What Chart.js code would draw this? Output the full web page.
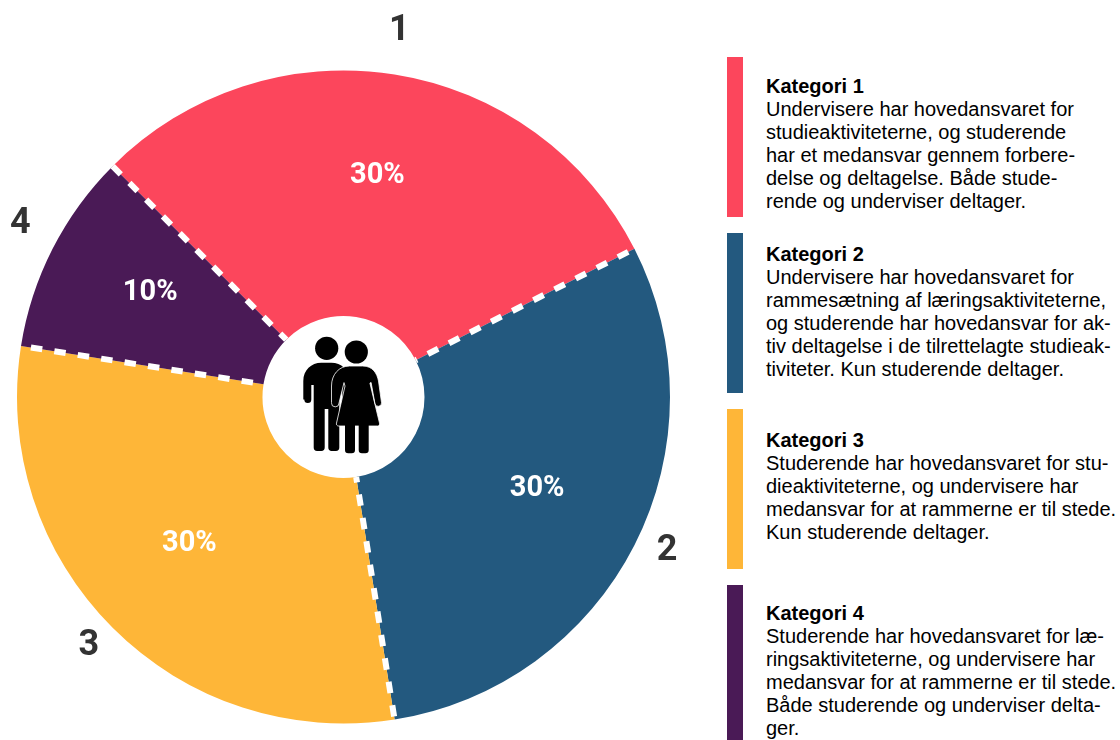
<!DOCTYPE html>
<html lang="da">
<head>
<meta charset="utf-8">
<title>Kategorier</title>
<script src="https://cdn.jsdelivr.net/npm/chart.js@4"></script>
<style>
  html,body { margin:0; padding:0; background:#fff; width:1120px; height:740px; overflow:hidden; }
  #pie { position:absolute; left:0; top:0; }
  #icon { position:absolute; left:0; top:0; pointer-events:none; }
  .bar { position:absolute; left:727px; width:16px; }
  .txt { position:absolute; left:766px; width:354px; font:20px/23.1px "Liberation Sans",Arial,sans-serif; color:#000; white-space:nowrap; }
</style>
</head>
<body>
<canvas id="pie" width="700" height="740"></canvas>
<svg id="icon" width="700" height="740" viewBox="0 0 700 740">
  <g fill="#000">
    <circle cx="326.7" cy="348.3" r="11.6"/>
    <path d="M303.3 399.5V381c0-11 8-18.3 18-18.3h10c10 0 18 7 18 18V399.5a3.5 3.5 0 0 1-7 0V385h-3v62.5a3.4 3.4 0 0 1-3.4 3.4h-4.2a3.4 3.4 0 0 1-3.4-3.4V409h-3.6v38.5a3.4 3.4 0 0 1-3.4 3.4h-4.2a3.4 3.4 0 0 1-3.4-3.4V385h-2.4V399.5a3.5 3.5 0 0 1-7 0z"/>
    <circle cx="356.3" cy="352" r="11.6"/>
    <path stroke="#fff" stroke-width="0.8" d="M331.5 402.5V386c0-11.5 7.5-20 18-20h13c10.5 0 14.5 7.5 16 15l3 21.5a3.3 3.3 0 0 1-6.6 1l-3.8-21 -1.2 .6 9.6 40a2.2 2.2 0 0 1-2 2.9H338.5a2.2 2.2 0 0 1-2-2.9l8.5-37 -1 -3.5 -5 20.5a3.4 3.4 0 0 1-7.5 0z"/>
    <path d="M345 425h10v25a3.3 3.3 0 0 1-3.3 3.3h-3.4a3.3 3.3 0 0 1-3.3-3.3zM358.7 425h10v25a3.3 3.3 0 0 1-3.3 3.3h-3.4a3.3 3.3 0 0 1-3.3-3.3z"/>
  </g>
</svg>
<div id="legend"></div>
<script>
const categories = ['1','2','3','4'];
const shares = [30,30,30,10];
const colors = ['#FC465C','#23597F','#FEB638','#4A1A56'];
const legendTitles = ['Kategori 1','Kategori 2','Kategori 3','Kategori 4'];
const legendLines = [
  ['Undervisere har hovedansvaret for','studieaktiviteterne, og studerende','har et medansvar gennem forbere-','delse og deltagelse. Både stude-','rende og underviser deltager.'],
  ['Undervisere har hovedansvaret for','rammesætning af læringsaktiviteterne,','og studerende har hovedansvar for ak-','tiv deltagelse i de tilrettelagte studieak-','tiviteter. Kun studerende deltager.'],
  ['Studerende har hovedansvaret for stu-','dieaktiviteterne, og undervisere har','medansvar for at rammerne er til stede.','Kun studerende deltager.'],
  ['Studerende har hovedansvaret for læ-','ringsaktiviteterne, og undervisere har','medansvar for at rammerne er til stede.','Både studerende og underviser delta-','ger.']
];

// legend column, plain html
const barTops = [57,233,409,585];
const textTops = [75,243,429,602];
document.getElementById('legend').innerHTML = legendTitles.map((t,i)=>`
  <div class="bar" style="top:${barTops[i]}px;height:160px;background:${colors[i]}"></div>
  <div class="txt" style="top:${textTops[i]}px"><b>${t}</b><br>${legendLines[i].join('<br>')}</div>`).join('');

// radius and angle tweaks (px / degrees) from each slice's middle
const pctPos = [{r:227,a:-0.4},{r:213,a:-2.4},{r:211,a:1.9},{r:221,a:2}];
const numPos = [{r:373,a:-0.4},{r:357,a:-2},{r:354,a:1},{r:368,a:1.6}];
// how far in from the rim each seam's first dash starts
const seamGap = [0,7,3,10];

const sliceExtras = {
  id:'sliceExtras',
  afterDatasetDraw(chart) {
    const {ctx} = chart;
    const arcs = chart.getDatasetMeta(0).data;
    const at = (arc,p) => {
      const ang = (arc.startAngle+arc.endAngle)/2 + p.a*Math.PI/180;
      return [arc.x+Math.cos(ang)*p.r, arc.y+Math.sin(ang)*p.r];
    };
    ctx.save();
    // white dashed seams between slices, drawn rim to hole
    ctx.strokeStyle='#fff'; ctx.lineWidth=6; ctx.setLineDash([11.5,12.2]);
    arcs.forEach((arc,i)=>{
      const c=Math.cos(arc.startAngle), s=Math.sin(arc.startAngle);
      const from=arc.outerRadius-seamGap[i];
      ctx.beginPath();
      ctx.moveTo(arc.x+c*from, arc.y+s*from);
      ctx.lineTo(arc.x+c*arc.innerRadius, arc.y+s*arc.innerRadius);
      ctx.stroke();
    });
    ctx.setLineDash([]);
    ctx.textAlign='center'; ctx.textBaseline='middle';
    arcs.forEach((arc,i)=>{
      let [x,y]=at(arc,pctPos[i]);
      ctx.font='bold 29px Roboto'; ctx.fillStyle='#fff';
      ctx.fillText(shares[i]+'%',x,y+3);
      [x,y]=at(arc,numPos[i]);
      ctx.font='bold 36px Roboto'; ctx.fillStyle='#333';
      ctx.fillText(categories[i],x,y+3);
    });
    ctx.restore();
  }
};

new Chart(document.getElementById('pie'), {
  type:'doughnut',
  data:{ labels:categories, datasets:[{ data:shares, backgroundColor:colors, borderWidth:0 }] },
  options:{
    responsive:false, animation:false, events:[],
    rotation:-45, cutout:81,
    layout:{ padding:{left:17,right:30,top:70.5,bottom:16.5} },
    plugins:{ legend:{display:false}, tooltip:{enabled:false} }
  },
  plugins:[sliceExtras]
});
</script>
</body>
</html>
